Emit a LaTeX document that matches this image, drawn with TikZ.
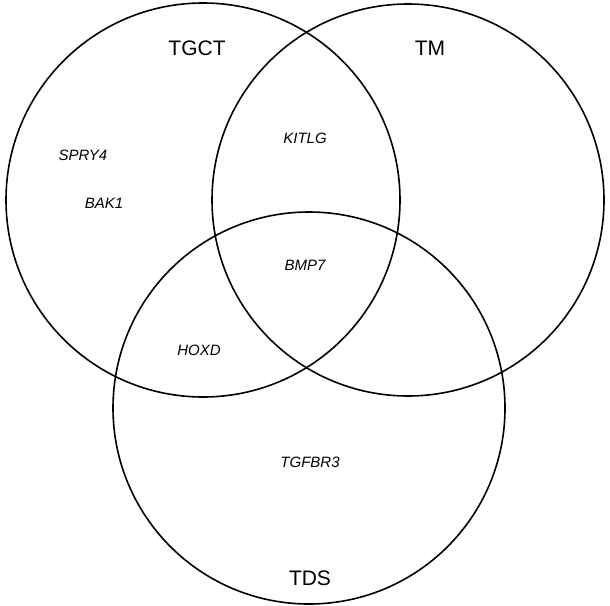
\documentclass[tikz,border=0pt]{standalone}
\usepackage{fontspec}
\setmainfont{Liberation Sans}
\begin{document}
\begin{tikzpicture}[x=1pt,y=-1pt,
  setname/.style={font=\fontsize{21}{24}\selectfont},
  gene/.style={font=\fontsize{15}{18}\selectfont\itshape}]
\useasboundingbox (0,0) rectangle (610,605);
\draw[line width=1.6pt] (203,200) circle (197);
\draw[line width=1.6pt] (408,200) circle (196);
\draw[line width=1.6pt] (309,408) circle (196);
\node[setname] (tgct) at (197,48) {TGCT};
\node[setname] (tm) at (430,48) {TM};
\node[setname] (tds) at (310,578) {TDS};
\node[gene] (spry) at (83,155) {SPRY4};
\node[gene] (bak) at (104,203) {BAK1};
\node[gene] (kitlg) at (305,138) {KITLG};
\node[gene] (bmp) at (305,265) {BMP7};
\node[gene] (hoxd) at (199,350) {HOXD};
\node[gene] (tgf) at (310,462) {TGFBR3};
\end{tikzpicture}
\end{document}
